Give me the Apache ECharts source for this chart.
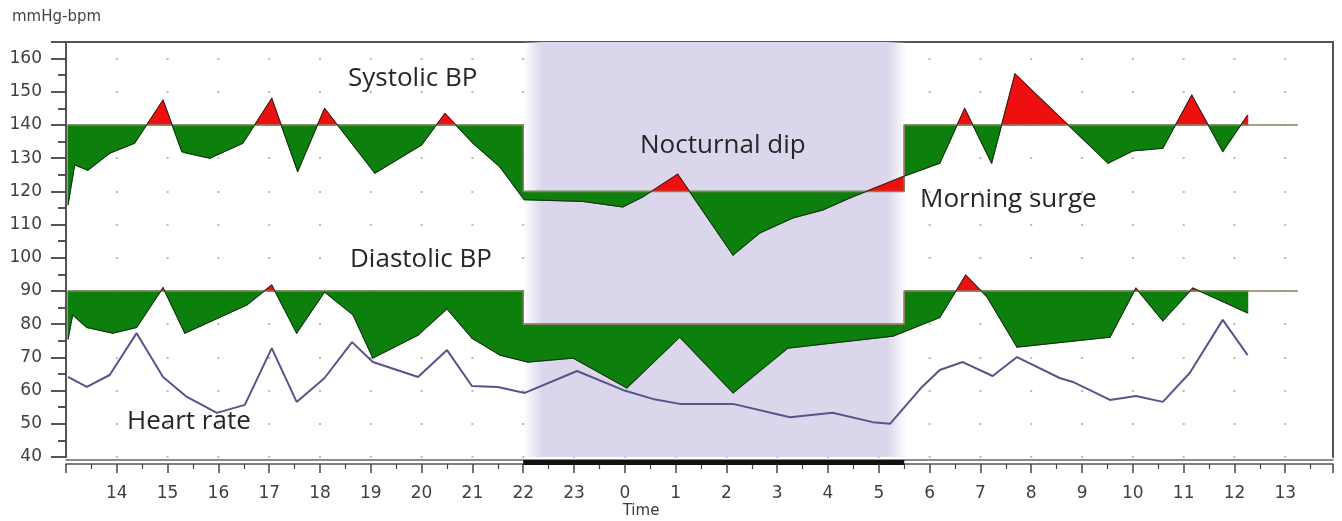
<!DOCTYPE html>
<html>
<head>
<meta charset="utf-8">
<script src="https://cdn.jsdelivr.net/npm/echarts@6.0.0/dist/echarts.min.js"></script>
<style>
  html, body { margin: 0; padding: 0; background: #fff; }
  #chart { width: 1342px; height: 521px; }
</style>
</head>
<body>
<div id="chart"></div>
<script>
// time in hours, counted on from 13:00 of day one (24 = midnight)
const sysTimes = [13.04, 13.17, 13.43, 13.86, 14.35, 14.91, 15.28, 15.38, 15.83, 16.48, 17.05, 17.56, 18.09, 19.08, 20.0, 20.46, 21.01, 21.54, 22.02, 23.17, 23.96, 24.35, 25.04, 26.13, 26.66, 27.31, 27.9, 28.43, 29.48, 30.2, 30.69, 31.22, 31.68, 33.51, 34.0, 34.59, 35.16, 35.77, 36.26]
const sysValues = [116, 128, 126.4, 131.5, 134.5, 147.5, 132, 131.5, 130, 134.5, 148, 126, 145, 125.5, 134, 143.5, 134.5, 127.4, 117.5, 117, 115.3, 118.3, 125.2, 100.8, 107.5, 112, 114.4, 118, 124.5, 128.5, 145, 128.5, 155.4, 128.5, 132.2, 133, 149, 132, 143]

const diaTimes = [13.04, 13.13, 13.41, 13.92, 14.39, 14.91, 15.34, 16.56, 17.05, 17.54, 18.09, 18.65, 19.04, 19.93, 20.5, 20.99, 21.54, 22.09, 22.98, 24.04, 25.08, 26.13, 27.21, 29.28, 30.2, 30.71, 31.13, 31.72, 33.55, 34.06, 34.59, 35.18, 36.26]
const diaValues = [75.5, 82.8, 79, 77.3, 79, 91, 77.3, 85.8, 91.8, 77.3, 89.7, 82.8, 69.8, 76.7, 84.6, 75.8, 70.7, 68.6, 69.8, 60.8, 76.1, 59.3, 72.8, 76.4, 82, 94.8, 88.2, 73.1, 76.1, 90.9, 81, 90.9, 83.4]

const hrTimes = [13.04, 13.41, 13.86, 14.39, 14.91, 15.38, 15.97, 16.52, 17.05, 17.54, 18.09, 18.63, 19.04, 19.93, 20.5, 20.99, 21.5, 22.03, 23.06, 23.96, 24.55, 25.08, 26.13, 27.25, 28.09, 28.88, 29.22, 29.85, 30.2, 30.65, 31.24, 31.72, 32.56, 32.82, 33.55, 34.06, 34.59, 35.12, 35.77, 36.26]
const hrValues = [64.1, 61.1, 64.7, 77.3, 64.1, 58.1, 53.3, 55.7, 72.8, 56.6, 63.8, 74.6, 68.6, 64.1, 72.2, 61.4, 61.1, 59.3, 65.9, 60.2, 57.5, 56, 56, 52, 53.3, 50.5, 50, 61.1, 66.2, 68.6, 64.4, 70.1, 63.8, 62.6, 57.2, 58.4, 56.6, 65.3, 81.3, 70.7]

// day / night / day limits
const limitSteps = [13.03, 22, 29.5, 37.25]
const sysLimits = [140, 120, 140]
const diaLimits = [90, 80, 90]
const nightPeriod = [22, 29.5]

const RED = '#ee1010'
const GREEN = '#0d7f0d'

const xMin = 13
const xMax = 37.94
const gridLeft = 66
const gridRight = 9
const hourPx = (1342 - gridLeft - gridRight) / (xMax - xMin)

const chart = echarts.init(document.getElementById('chart'))

function limitAt(t, limits) {
  for (let k = 1; k < limitSteps.length - 1; k++) {
    if (t < limitSteps[k]) return limits[k - 1]
  }
  return limits[limits.length - 1]
}

// pieces of fill between segment i of the curve and the limit line
function fillPieces(times, values, limits, i) {
  const t0 = times[i], t1 = times[i + 1], v0 = values[i], v1 = values[i + 1]
  const at = (t) => v0 + ((v1 - v0) * (t - t0)) / (t1 - t0)
  const cuts = [t0, ...limitSteps.filter((s) => s > t0 && s < t1), t1]
  const pieces = []
  for (let k = 0; k < cuts.length - 1; k++) {
    const a = cuts[k], b = cuts[k + 1]
    const lim = limitAt((a + b) / 2, limits)
    const da = at(a) - lim, db = at(b) - lim
    let parts = [[a, b]]
    if (da * db < 0) {
      const c = a + ((b - a) * da) / (da - db)
      parts = [[a, c], [c, b]]
    }
    parts.forEach(([p, q]) => {
      pieces.push({
        pts: [[p, lim], [p, at(p)], [q, at(q)], [q, lim]],
        above: at((p + q) / 2) > lim
      })
    })
  }
  return pieces
}

function fillSeries(times, values, limits) {
  return {
    type: 'custom',
    z: 3,
    silent: true,
    clip: true,
    data: times.map((t, i) => [t, values[i]]),
    encode: { x: 0, y: 1 },
    renderItem: function (params, api) {
      const i = params.dataIndex
      if (i >= times.length - 1) return null
      return {
        type: 'group',
        children: fillPieces(times, values, limits, i).map((pc) => {
          const col = pc.above ? RED : GREEN
          return {
            type: 'polygon',
            shape: { points: pc.pts.map((p) => api.coord(p)) },
            style: { fill: col, stroke: col, lineWidth: 1.2, lineJoin: 'round' }
          }
        })
      }
    }
  }
}

function stepLine(limits) {
  const pts = []
  limits.forEach((v, k) => {
    pts.push([limitSteps[k], v], [limitSteps[k + 1], v])
  })
  return pts
}

function lineSeries(times, values, color, width) {
  return {
    type: 'line',
    z: 5,
    silent: true,
    symbol: 'none',
    data: times.map((t, i) => [t, values[i]]),
    lineStyle: { color: color, width: width }
  }
}

const labelFont = { fontFamily: 'DejaVu Sans', fontSize: 17, color: '#404040' }
const noteFont = '26px "Open Sans"'

const option = {
  animation: false,
  grid: { left: gridLeft, right: gridRight, top: 42, bottom: 64 },
  xAxis: [
    {
      type: 'value',
      min: xMin,
      max: xMax,
      interval: 1,
      position: 'bottom',
      offset: 7,
      axisLine: { lineStyle: { color: '#555', width: 1.5 } },
      axisTick: { length: 9, lineStyle: { color: '#444', width: 1.5 } },
      minorTick: { show: true, splitNumber: 2, length: 5, lineStyle: { color: '#444', width: 1.2 } },
      splitLine: { show: false },
      axisLabel: {
        ...labelFont,
        margin: 21,
        formatter: (v) => {
          const r = Math.round(v)
          return Math.abs(v - r) < 1e-6 && r >= 14 && r <= 37 ? String(r % 24) : ''
        }
      }
    },
    {
      type: 'value', min: xMin, max: xMax, position: 'bottom', offset: 3,
      axisLine: { lineStyle: { color: '#666', width: 1.5 } },
      axisTick: { show: false }, axisLabel: { show: false }, splitLine: { show: false }
    },
    {
      type: 'value', min: xMin, max: xMax, position: 'top',
      axisLine: { lineStyle: { color: '#555', width: 2 } },
      axisTick: { show: false }, axisLabel: { show: false }, splitLine: { show: false }
    }
  ],
  yAxis: [
    {
      type: 'value',
      min: 40,
      max: 165,
      interval: 10,
      axisLine: { show: true, lineStyle: { color: '#555', width: 2 } },
      axisTick: { show: true, length: 15, lineStyle: { color: '#444', width: 1.8 } },
      minorTick: { show: true, splitNumber: 2, length: 8, lineStyle: { color: '#444', width: 1.8 } },
      axisLabel: {
        ...labelFont,
        margin: 24,
        formatter: (v) => (v % 10 === 0 && v <= 160 ? String(v) : '')
      },
      // dotted grid: one dot per hour on every 10 mmHg line
      splitLine: {
        show: true,
        lineStyle: { color: '#b8b8b8', width: 2, type: [2, hourPx - 2], dashOffset: 1 }
      }
    },
    {
      type: 'value', min: 40, max: 165, position: 'right',
      axisLine: { show: true, lineStyle: { color: '#555', width: 2 } },
      axisTick: { show: false }, axisLabel: { show: false }, splitLine: { show: false }
    }
  ],
  series: [
    {
      // night band
      type: 'line',
      z: 1,
      silent: true,
      symbol: 'none',
      data: [],
      markArea: {
        silent: true,
        itemStyle: {
          color: new echarts.graphic.LinearGradient(0, 0, 1, 0, [
            { offset: 0, color: 'rgba(219,214,236,0)' },
            { offset: 0.05, color: 'rgba(219,214,236,1)' },
            { offset: 0.95, color: 'rgba(219,214,236,1)' },
            { offset: 1, color: 'rgba(219,214,236,0)' }
          ])
        },
        data: [[{ xAxis: nightPeriod[0] }, { xAxis: nightPeriod[1] + 0.05 }]]
      }
    },
    fillSeries(sysTimes, sysValues, sysLimits),
    fillSeries(diaTimes, diaValues, diaLimits),
    {
      type: 'line', z: 4, silent: true, symbol: 'none',
      data: stepLine(sysLimits),
      lineStyle: { color: '#8f7f62', width: 1.5 }
    },
    {
      type: 'line', z: 4, silent: true, symbol: 'none',
      data: stepLine(diaLimits),
      lineStyle: { color: '#8f7f62', width: 1.5 }
    },
    lineSeries(sysTimes, sysValues, '#1c2a1c', 1),
    lineSeries(diaTimes, diaValues, '#1c2a1c', 1),
    lineSeries(hrTimes, hrValues, '#55558a', 2),
    {
      // thick bar on the time axis for the night period
      type: 'custom',
      z: 6,
      silent: true,
      clip: false,
      data: [nightPeriod],
      encode: { x: [0, 1] },
      renderItem: function (params, api) {
        const a = api.coord([api.value(0), 40])
        const b = api.coord([api.value(1), 40])
        return {
          type: 'rect',
          shape: { x: a[0], y: a[1] + 3, width: b[0] - a[0], height: 5 },
          style: { fill: '#111' }
        }
      }
    }
  ],
  graphic: [
    { type: 'text', x: 12, y: 17, style: { text: 'mmHg-bpm', font: '15px "DejaVu Sans"', fill: '#444', verticalAlign: 'middle' } },
    { type: 'text', x: 641, y: 511, style: { text: 'Time', font: '15px "DejaVu Sans"', fill: '#3a3a3a', align: 'center', verticalAlign: 'middle' } },
    { type: 'text', x: 348, y: 79, z: 10, style: { text: 'Systolic BP', font: noteFont, fill: '#262626', verticalAlign: 'middle' } },
    { type: 'text', x: 640, y: 146, z: 10, style: { text: 'Nocturnal dip', font: noteFont, fill: '#262626', verticalAlign: 'middle' } },
    { type: 'text', x: 920, y: 200, z: 10, style: { text: 'Morning surge', font: noteFont, fill: '#262626', verticalAlign: 'middle' } },
    { type: 'text', x: 350, y: 260, z: 10, style: { text: 'Diastolic BP', font: noteFont, fill: '#262626', verticalAlign: 'middle' } },
    { type: 'text', x: 127, y: 422, z: 10, style: { text: 'Heart rate', font: noteFont, fill: '#262626', verticalAlign: 'middle' } }
  ]
}

chart.setOption(option)
</script>
</body>
</html>
